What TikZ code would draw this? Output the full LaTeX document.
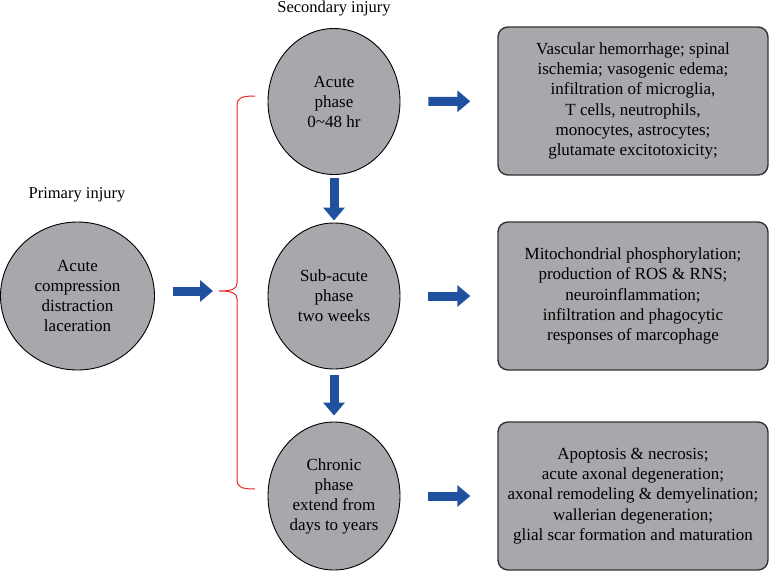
\documentclass[tikz,border=0pt]{standalone}
\usepackage{fontspec}
\setmainfont{Liberation Serif}
\usetikzlibrary{shapes.geometric,arrows.meta,positioning}
\definecolor{cellgray}{RGB}{166,168,171}
\definecolor{flowblue}{RGB}{32,80,160}
\definecolor{bracered}{RGB}{232,40,40}
\tikzset{
  phase/.style={ellipse, draw=black, line width=0.9pt, fill=cellgray, minimum width=132pt, minimum height=146pt, inner sep=0pt, align=center, font=\fontsize{17}{20}\selectfont},
  effect/.style={rectangle, rounded corners=10pt, draw=black!80, line width=1.4pt, fill=cellgray, minimum width=270pt, minimum height=148pt, inner sep=0pt, align=center, font=\fontsize{17}{20.3}\selectfont},
  heading/.style={font=\fontsize{16.5}{20}\selectfont},
  flow/.style={draw=flowblue, line width=9pt, -{Triangle[length=13pt, width=21pt]}},
  brace/.style={draw=bracered, line width=1pt}
}

\begin{document}
\begin{tikzpicture}[x=1pt, y=-1pt]
  \useasboundingbox (0,0) rectangle (769,571);
  % Primary injury
  \node[heading] (primlabel) at (77,195) {Primary injury};
  \node[phase, minimum width=154pt, minimum height=148pt] (primary) at (77.5,296) {Acute\\compression\\distraction\\laceration};

  % Secondary injury phases
  \node[heading] (seclabel) at (334,9) {Secondary injury};
  \node[phase] (acute) at (334,101.5) {Acute\\phase\\0\textasciitilde48 hr};
  \node[phase] (subacute) at (334,296) {Sub-acute\\phase\\two weeks};
  \node[phase, minimum height=148pt] (chronic) at (334,496) {Chronic\\phase\\extend from\\days to years};

  % Effects of each phase
  \node[effect] (vascular) at (633,101) {Vascular hemorrhage; spinal\\ischemia; vasogenic edema;\\infiltration of microglia,\\T cells, neutrophils,\\monocytes, astrocytes;\\glutamate excitotoxicity;};
  \node[effect] (mito) at (633,296) {Mitochondrial phosphorylation;\\production of ROS \& RNS;\\neuroinflammation;\\infiltration and phagocytic\\responses of marcophage};
  \node[effect] (apoptosis) at (633,496) {Apoptosis \& necrosis;\\acute axonal degeneration;\\axonal remodeling \& demyelination;\\wallerian degeneration;\\glial scar formation and maturation};

  % Brace grouping the phases
  \coordinate (bracetip) at (219,291);
  \draw[brace] (255,96) .. controls (241,96) and (237,98) .. (237,106) -- (237,283)
    .. controls (237,289) and (232,291) .. (bracetip)
    .. controls (232,291) and (237,293) .. (237,299) -- (237,479)
    .. controls (237,487) and (241,489) .. (255,489);

  \draw[flow, shorten <=18pt, shorten >=6pt] (primary.east |- bracetip) -- (bracetip);
  \draw[flow, shorten <=3.5pt, shorten >=2pt] (acute) -- (subacute);
  \draw[flow, shorten <=6pt, shorten >=6pt] (subacute) -- (chronic);
  \draw[flow, shorten <=28pt, shorten >=27pt] (acute) -- (vascular);
  \draw[flow, shorten <=28pt, shorten >=27pt] (subacute) -- (mito);
  \draw[flow, shorten <=28pt, shorten >=27pt] (chronic) -- (apoptosis);
\end{tikzpicture}
\end{document}
